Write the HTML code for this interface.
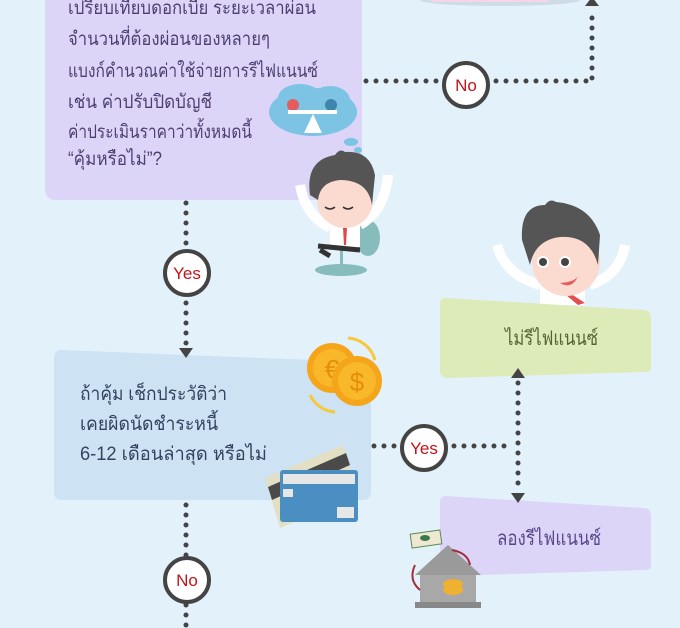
<!DOCTYPE html>
<html><head><meta charset="utf-8"><style>
html,body{margin:0;padding:0;width:680px;height:628px;overflow:hidden;background:#e3f1fb;}
svg{display:block}
text{font-family:"Liberation Sans","Noto Sans CJK SC",sans-serif;}
</style></head><body>
<svg width="680" height="628" viewBox="0 0 680 628" xmlns="http://www.w3.org/2000/svg">
<rect width="680" height="628" fill="#e3f1fb"/>
<ellipse cx="500" cy="0" rx="80" ry="6" fill="#cfdbe6"/>
<rect x="430" y="-6" width="120" height="8" rx="4" fill="#f6d5e6"/>
<rect x="45" y="-20" width="317" height="220" rx="10" fill="#ddd5f8"/>
<g fill="#4e3f72" font-size="19">
<text x="68" y="14" textLength="248" lengthAdjust="spacingAndGlyphs">เปรียบเทียบดอกเบี้ย ระยะเวลาผ่อน</text>
<text x="68" y="45" textLength="202" lengthAdjust="spacingAndGlyphs">จำนวนที่ต้องผ่อนของหลายๆ</text>
<text x="68" y="77" textLength="250" lengthAdjust="spacingAndGlyphs">แบงก์คำนวณค่าใช้จ่ายการรีไฟแนนซ์</text>
<text x="68" y="108" textLength="144" lengthAdjust="spacingAndGlyphs">เช่น ค่าปรับปิดบัญชี</text>
<text x="68" y="138" textLength="184" lengthAdjust="spacingAndGlyphs">ค่าประเมินราคาว่าทั้งหมดนี้</text>
<text x="68" y="165" textLength="94" lengthAdjust="spacingAndGlyphs">“คุ้มหรือไม่”?</text>
</g>
<g fill="#7cc3e4">
<ellipse cx="313" cy="112" rx="44" ry="24"/><ellipse cx="300" cy="98" rx="22" ry="14"/><ellipse cx="330" cy="100" rx="20" ry="14"/>
<ellipse cx="351" cy="142" rx="7" ry="4"/><ellipse cx="358" cy="150" rx="4" ry="3"/><ellipse cx="356" cy="158" rx="3" ry="2"/>
</g>
<circle cx="293" cy="105" r="6" fill="#e35d5d"/><circle cx="331" cy="105" r="6" fill="#3f86ad"/>
<rect x="288" y="110" width="49" height="4" fill="#fff"/><polygon points="313,114 304,133 322,133" fill="#fff"/>
<ellipse cx="341" cy="270" rx="26" ry="6" fill="#86bcbb"/>
<rect x="340" y="245" width="3" height="25" fill="#86bcbb"/>
<ellipse cx="368" cy="238" rx="12" ry="18" fill="#86bcbb"/>
<path d="M300 185 Q305 215 330 228 M388 175 Q385 210 360 225" stroke="#fff" stroke-width="10" fill="none"/>
<rect x="330" y="222" width="30" height="25" fill="#fff"/>
<polygon points="343,228 347,228 346,245 344,245" fill="#e04848"/>
<path d="M318 246 L360 250 M320 250 L330 256" stroke="#333" stroke-width="5"/>
<circle cx="345" cy="200" r="28" fill="#fbdacf"/>
<path d="M310 195 Q305 160 335 155 Q340 148 345 152 Q370 150 375 175 L372 205 Q368 180 340 180 Q320 182 318 200 Z" fill="#555"/>
<path d="M325 207 q5 4 10 0 M343 207 q5 4 10 0" stroke="#333" stroke-width="1.5" fill="none"/>
<path d="M497 245 Q505 275 540 285 M625 245 Q620 275 590 285" stroke="#fff" stroke-width="10" fill="none"/>
<rect x="540" y="280" width="45" height="25" fill="#fff"/>
<polygon points="560,290 565,290 585,303 578,305" fill="#e05050"/>
<circle cx="566" cy="262" r="34" fill="#fbdacf"/>
<path d="M522 240 Q520 205 545 205 Q550 198 556 202 Q590 205 600 235 L598 265 Q590 235 560 237 Q535 240 530 265 Z" fill="#555"/>
<circle cx="543" cy="262" r="6" fill="#fff"/><circle cx="543" cy="262" r="4" fill="#444"/>
<circle cx="565" cy="262" r="6" fill="#fff"/><circle cx="565" cy="262" r="4" fill="#444"/>
<path d="M560 283 Q575 282 578 276 Q572 290 560 283Z" fill="#e35d5d"/>
<path d="M62 350 L362 362 Q371 362 371 371 L371 492 Q371 500 362 500 L62 500 Q54 500 54 492 L54 358 Q54 350 62 350Z" fill="#cde3f4"/>
<g fill="#34425e" font-size="19">
<text x="80" y="400" textLength="147" lengthAdjust="spacingAndGlyphs">ถ้าคุ้ม เช็กประวัติว่า</text>
<text x="80" y="430" textLength="138" lengthAdjust="spacingAndGlyphs">เคยผิดนัดชำระหนี้</text>
<text x="80" y="460" textLength="187" lengthAdjust="spacingAndGlyphs">6-12 เดือนล่าสุด หรือไม่</text>
</g>
<path d="M348 338 A30 30 0 0 1 375 360" stroke="#f8c83a" stroke-width="3" fill="none"/>
<path d="M310 395 A30 30 0 0 0 335 412" stroke="#f8c83a" stroke-width="3" fill="none"/>
<circle cx="332" cy="368" r="25" fill="#f4a51a"/><circle cx="332" cy="368" r="19" fill="#f9b82a"/>
<text x="332" y="378" font-size="26" fill="#e68d0d" text-anchor="middle">€</text>
<circle cx="357" cy="381" r="25" fill="#f4a51a"/><circle cx="357" cy="381" r="19" fill="#f9b82a"/>
<text x="357" y="391" font-size="26" fill="#e68d0d" text-anchor="middle">$</text>
<polygon points="265,478 343,445 358,495 280,528" fill="#e2dfc4"/>
<polygon points="268,487 346,453 350,465 272,500" fill="#4a4a4a"/>
<rect x="280" y="470" width="78" height="52" rx="3" fill="#4b8fc2"/>
<rect x="283" y="474" width="72" height="10" fill="#e6e6e6"/>
<rect x="283" y="489" width="10" height="8" fill="#e6e6e6"/>
<rect x="337" y="507" width="17" height="11" fill="#e6e6e6"/>
<path d="M446 298 L643 310 Q651 310 651 318 L651 368 Q651 372 644 372 L448 378 Q440 378 440 370 L440 304 Q440 298 446 298Z" fill="#ddebb9"/>
<text x="505" y="345" font-size="20" fill="#556535" textLength="93" lengthAdjust="spacingAndGlyphs">ไม่รีไฟแนนซ์</text>
<path d="M446 496 L643 508 Q651 508 651 516 L651 566 Q651 570 644 570 L448 576 Q440 576 440 568 L440 502 Q440 496 446 496Z" fill="#ddd5f8"/>
<text x="497" y="545" font-size="20" fill="#58488a" textLength="104" lengthAdjust="spacingAndGlyphs">ลองรีไฟแนนซ์</text>
<rect x="411" y="532" width="30" height="14" fill="#eee8d0" stroke="#5a8a5a" transform="rotate(-8 426 539)"/>
<ellipse cx="425" cy="538" rx="5" ry="3" fill="#3a7a4a"/>
<polygon points="448,545 415,575 481,575" fill="#9a9a9a"/>
<rect x="420" y="575" width="56" height="30" fill="#a8a8a8"/>
<rect x="415" y="602" width="66" height="6" fill="#888"/>
<ellipse cx="453" cy="584" rx="10" ry="5" fill="#f0b030"/><ellipse cx="453" cy="590" rx="10" ry="5" fill="#f0b030"/>
<path d="M452 550 Q468 553 470 565" stroke="#a0303a" stroke-width="2" fill="none"/>
<path d="M415 565 Q408 580 420 590" stroke="#a0303a" stroke-width="2" fill="none"/>
<g stroke="#444" stroke-width="5" stroke-linecap="round" stroke-dasharray="0 10" fill="none">
<line x1="366" y1="81" x2="590" y2="81"/>
<line x1="592" y1="78" x2="592" y2="8"/>
<line x1="186" y1="203" x2="186" y2="345"/>
<line x1="374" y1="446" x2="510" y2="446"/>
<line x1="518" y1="383" x2="518" y2="492"/>
<line x1="186" y1="505" x2="186" y2="630"/>
</g>
<g fill="#444">
<polygon points="592,-3 585,6 599,6"/>
<polygon points="186,358 179,348 193,348"/>
<polygon points="518,368 511,378 525,378"/>
<polygon points="518,503 511,493 525,493"/>
</g>
<g stroke="#444" stroke-width="4" fill="#fff">
<circle cx="466" cy="85" r="22"/>
<circle cx="187" cy="273" r="22"/>
<circle cx="424" cy="448" r="22"/>
<circle cx="187" cy="580" r="22"/>
</g>
<g fill="#c0141a" font-size="17" text-anchor="middle">
<text x="466" y="91">No</text>
<text x="187" y="279">Yes</text>
<text x="424" y="454">Yes</text>
<text x="187" y="586">No</text>
</g>
</svg>
</body></html>
